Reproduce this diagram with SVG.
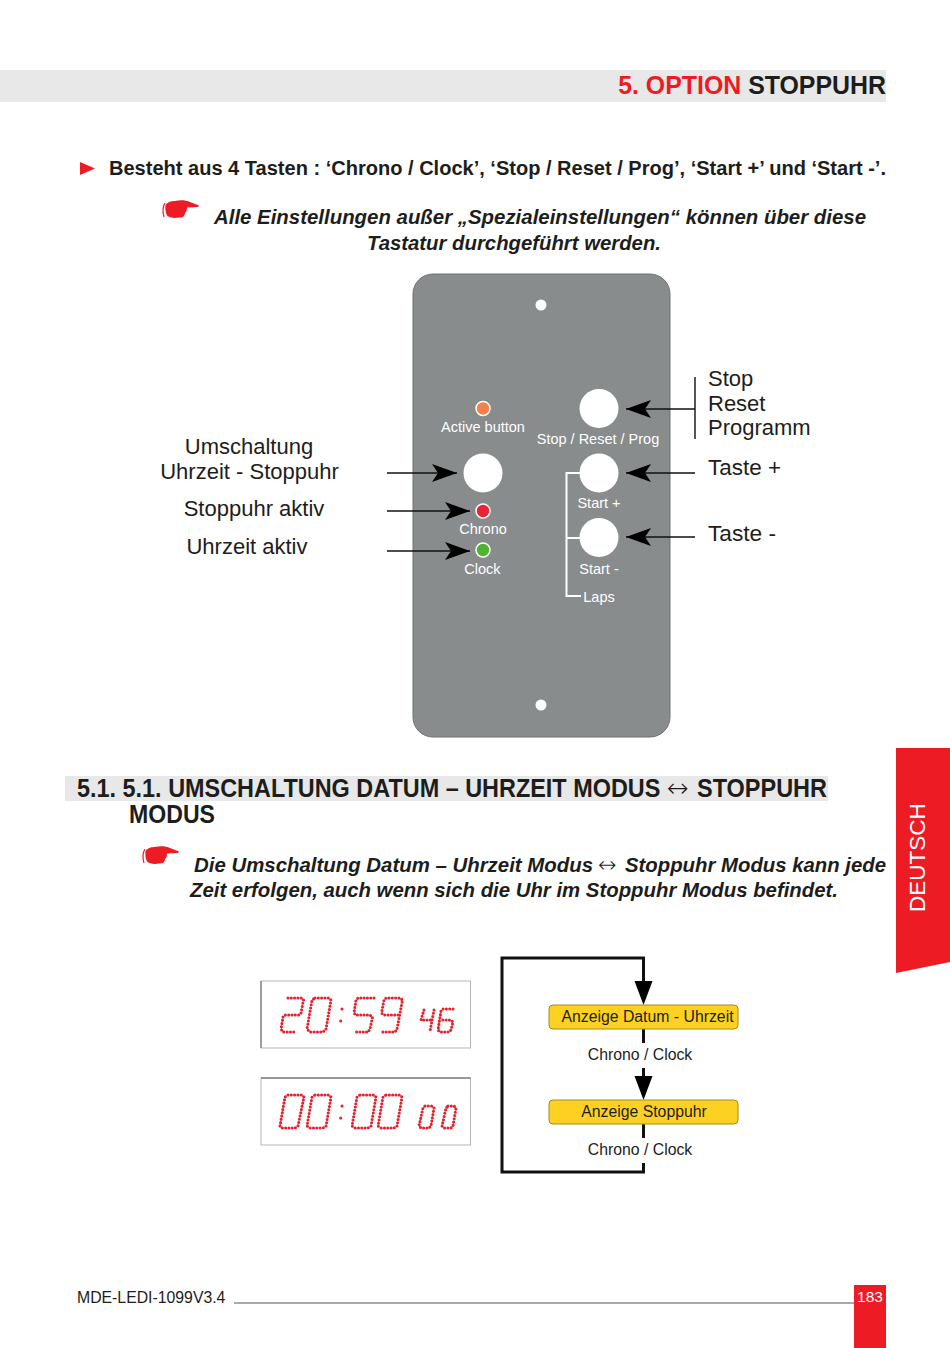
<svg xmlns="http://www.w3.org/2000/svg" width="950" height="1348" viewBox="0 0 950 1348">
<style>
text{font-family:"Liberation Sans",Arial,sans-serif;fill:#1d1d1b}
.b{font-weight:bold}
.bi{font-weight:bold;font-style:italic;font-size:20.500px}
.ar{font-family:"DejaVu Sans",sans-serif;font-weight:200;font-style:normal}
.w{fill:#fff;font-size:14.500px;text-anchor:middle}
.l{font-size:22px}
.k{font-size:15.800px;text-anchor:middle}
.ln{stroke:#111;stroke-width:1.400;fill:none}
.th{stroke:#111;stroke-width:3;fill:none}
.wl{stroke:#fff;stroke-width:2;fill:none}
.d{fill:none;stroke:#e8202c;stroke-width:3.100;stroke-linecap:round;stroke-linejoin:round;stroke-dasharray:0 3.300}
.btn{fill:#fff}
.panel{fill:#888c8c;stroke:#6f7373;stroke-width:1}
.y{fill:#fdd122;stroke:#a58a1c;stroke-width:1}
.fr{fill:#fff;stroke:#b5b5b5;stroke-width:1}
</style>
<defs>
<marker id="a" markerUnits="userSpaceOnUse" markerWidth="26" markerHeight="20" refX="25" refY="9" orient="auto"><path d="M0 0L25 9L0 18L6 9Z" fill="#000"/></marker>
<g id="hand">
<path d="M4 4C1.500 8 1.500 13 3 18" fill="none" stroke="#ed1c24" stroke-width="1.200"/>
<path d="M4.500 6C7 2.500 11 2 14 2C19 .5 25 1 29 3L38 6.500L37 8L26 8.500C26 11 25.500 13 24 14C24 17 22 19 18 18.500C13 19.500 8 18.500 6 16.500C4.500 14 4 9 4.500 6Z" fill="#ed1c24"/>
</g>
</defs>
<g id="header">
<rect x="0" y="70" width="886" height="32" fill="#e8e8e8"/>
<text x="886" y="94" text-anchor="end" class="b" font-size="24.900"><tspan fill="#ed1c24">5. OPTION</tspan> STOPPUHR</text>
</g>
<g id="intro">
<path d="M80 162L95 168.500L80 175Z" fill="#ed1c24"/>
<text x="109" y="175" class="b" font-size="20" textLength="777" lengthAdjust="spacingAndGlyphs">Besteht aus 4 Tasten : ‘Chrono / Clock’, ‘Stop / Reset / Prog’, ‘Start +’ und ‘Start -’.</text>
<use href="#hand" x="161" y="199"/>
<text x="214" y="224" class="bi" textLength="652" lengthAdjust="spacingAndGlyphs">Alle Einstellungen außer „Spezialeinstellungen“ können über diese</text>
<text x="367" y="250" class="bi" textLength="294" lengthAdjust="spacingAndGlyphs">Tastatur durchgeführt werden.</text>
</g>
<g id="panel">
<rect class="panel" x="413" y="274" width="257" height="463" rx="20" ry="20"/>
<circle cx="541" cy="305" r="5.500" fill="#fff"/>
<circle cx="541" cy="705" r="5.500" fill="#fff"/>
</g>
<g id="panel-labels">
<text x="483" y="432" class="w">Active button</text>
<text x="598" y="444" class="w">Stop / Reset / Prog</text>
<text x="599" y="508" class="w">Start +</text>
<text x="599" y="574" class="w">Start -</text>
<text x="599" y="602" class="w">Laps</text>
<text x="483" y="533.500" class="w">Chrono</text>
<text x="482.500" y="573.500" class="w">Clock</text>
</g>
<g id="led-active"><circle cx="483" cy="408.500" r="7" fill="#f58149" stroke="#fff" stroke-width="1.500"/></g>
<g id="led-chrono"><circle cx="483" cy="511" r="7" fill="#ea2336" stroke="#fff" stroke-width="1.500"/></g>
<g id="led-clock"><circle cx="483" cy="550" r="7" fill="#4fb52f" stroke="#fff" stroke-width="1.500"/></g>
<g id="btn-stop"><circle class="btn" cx="599" cy="408.500" r="19.500"/></g>
<g id="btn-plus"><circle class="btn" cx="599" cy="473" r="19.500"/></g>
<g id="btn-minus"><circle class="btn" cx="599" cy="537.500" r="19.500"/></g>
<g id="btn-chrono"><circle class="btn" cx="483" cy="473" r="19.500"/></g>
<g id="connectors">
<path class="wl" d="M580 473H566.500V596H581M566.500 538H580"/>
<path class="ln" d="M695 377V439" />
<path class="ln" d="M695 409H626" marker-end="url(#a)"/>
<path class="ln" d="M695 473H626" marker-end="url(#a)"/>
<path class="ln" d="M695 537H626" marker-end="url(#a)"/>
<path class="ln" d="M387 473H457" marker-end="url(#a)"/>
<path class="ln" d="M387 511H470" marker-end="url(#a)"/>
<path class="ln" d="M387 551H470" marker-end="url(#a)"/>
<path class="th" d="M643.500 1163V1172H502V958H643.500V985"/>
<path class="th" d="M643.500 1029V1043M643.500 1068V1080M643.500 1124V1138"/>
<path d="M634.500 981L652.500 981L643.500 1005Z" fill="#000"/>
<path d="M634.500 1076L652.500 1076L643.500 1100Z" fill="#000"/>
</g>
<g id="labels-right">
<text x="708" y="386" class="l">Stop</text>
<text x="708" y="410.500" class="l">Reset</text>
<text x="708" y="435" class="l">Programm</text>
<text x="708" y="475" class="l" textLength="73" lengthAdjust="spacingAndGlyphs">Taste +</text>
<text x="708" y="541" class="l" textLength="68" lengthAdjust="spacingAndGlyphs">Taste -</text>
</g>
<g id="labels-left">
<text x="249" y="453.500" class="l" text-anchor="middle">Umschaltung</text>
<text x="249.500" y="478.500" class="l" text-anchor="middle">Uhrzeit - Stoppuhr</text>
<text x="254" y="515.500" class="l" text-anchor="middle">Stoppuhr aktiv</text>
<text x="247" y="553.500" class="l" text-anchor="middle">Uhrzeit aktiv</text>
</g>
<g id="section">
<rect x="65" y="776" width="763" height="25" fill="#e8e8e8"/>
<text transform="translate(77 797) scale(.937 1)" class="b" font-size="25">5.1. 5.1. UMSCHALTUNG DATUM – UHRZEIT MODUS</text>
<text x="667" y="797" class="ar" font-size="26">↔</text>
<text x="697" y="797" class="b" font-size="25" textLength="130" lengthAdjust="spacingAndGlyphs">STOPPUHR</text>
<text x="129" y="823" class="b" font-size="25" textLength="86" lengthAdjust="spacingAndGlyphs">MODUS</text>
<use href="#hand" x="141" y="845"/>
<text x="194" y="872" class="bi" textLength="399" lengthAdjust="spacingAndGlyphs">Die Umschaltung Datum – Uhrzeit Modus</text>
<text x="598" y="872" class="ar" font-size="22">↔</text>
<text x="625" y="872" class="bi" textLength="261" lengthAdjust="spacingAndGlyphs">Stoppuhr Modus kann jede</text>
<text x="190" y="897" class="bi" textLength="648" lengthAdjust="spacingAndGlyphs">Zeit erfolgen, auch wenn sich die Uhr im Stoppuhr Modus befindet.</text>
</g>
<g id="display-time">
<rect class="fr" x="261" y="981" width="209.500" height="67"/>
<path d="M261 981V1048" stroke="#8a8a8a" stroke-width="1.500"/>
<path class="d" d="M288 998H302L303.500 1000L301 1013L299 1015H285L283 1017L281 1029L283 1032H297"/>
<path class="d" d="M315 998H329L331 1000L326 1029L323 1032H310L307 1029L312 1000Z"/>
<path class="d" d="M342 1009h.1M340.700 1021h.1"/>
<path class="d" d="M374 998H358L356 1000L354 1013L356 1015H370L372.500 1017L370 1029L368 1032H354"/>
<path class="d" d="M398 1015H384L381.500 1013L384 1000L386 998H400L402.500 1000L397 1029L395 1032H381"/>
<path class="d" d="M424 1010L421 1020H433M434 1010L430 1031"/>
<path class="d" d="M453 1009H443L441 1011L438 1030L440 1032H449L451 1030L453 1022L451 1020H440"/>
</g>
<g id="display-chrono">
<rect class="fr" x="261" y="1078" width="209.500" height="67"/>
<path d="M261 1078H470.500" stroke="#808080" stroke-width="1.500"/>
<path class="d" d="M288 1095H302L304 1097L298 1126L295 1128H282L280 1126L285 1097Z"/>
<path class="d" d="M315 1095H329L331 1097L326 1126L323 1128H310L307 1126L312 1097Z"/>
<path class="d" d="M342 1106h.1M340.700 1118h.1"/>
<path class="d" d="M360 1095H374L376 1097L371 1126L368 1128H355L352 1126L357 1097Z"/>
<path class="d" d="M386 1095H400L402 1097L397 1126L394 1128H381L378 1126L383 1097Z"/>
<path class="d" d="M425 1106H432L434 1108L431 1126L429 1128H421L419 1126L423 1108Z"/>
<path class="d" d="M448 1106H454L456 1108L453 1126L451 1128H444L442 1126L446 1108Z"/>
</g>
<g id="box-datum">
<rect class="y" x="549" y="1005" width="189" height="24" rx="4"/>
<text x="647.500" y="1022" class="k">Anzeige Datum - Uhrzeit</text>
</g>
<text x="640" y="1059.500" class="k">Chrono / Clock</text>
<g id="box-stopp">
<rect class="y" x="549" y="1100" width="189" height="24" rx="4"/>
<text x="644" y="1117" class="k">Anzeige Stoppuhr</text>
</g>
<text x="640" y="1155" class="k">Chrono / Clock</text>
<g id="tab">
<path d="M896 748H950V962L896 973Z" fill="#ed1c24"/>
<text transform="translate(925 912) rotate(-90)" font-size="22.500" style="fill:#fff">DEUTSCH</text>
</g>
<g id="footer">
<text x="77" y="1303" font-size="15.800">MDE-LEDI-1099V3.4</text>
<path d="M234 1303H854" stroke="#555" stroke-width="1"/>
<rect x="854" y="1285" width="32" height="63" fill="#ed1c24"/>
<text x="870" y="1302" font-size="15.500" text-anchor="middle" style="fill:#fff">183</text>
</g>
</svg>
